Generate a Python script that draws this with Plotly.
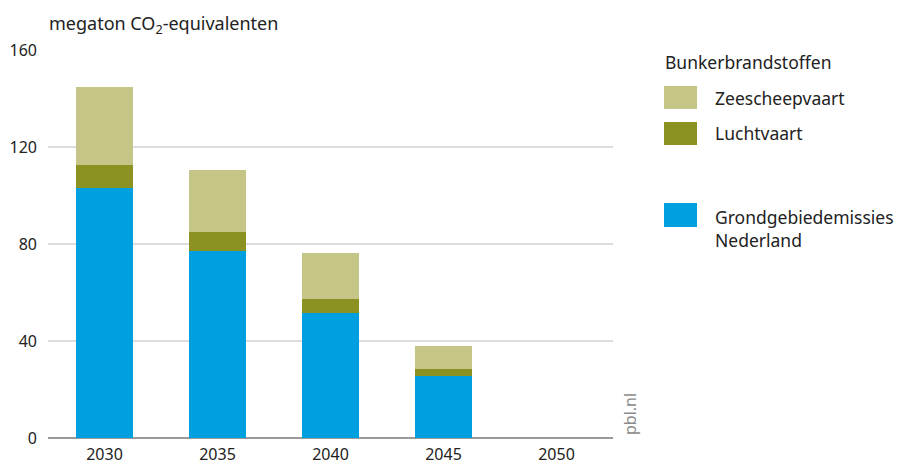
import plotly.graph_objects as go

years = ["2030", "2035", "2040", "2045", "2050"]
grondgebied = [103.0, 77.0, 51.4, 25.7, 0]
luchtvaart = [9.7, 8.0, 5.8, 2.9, 0]
zeescheepvaart = [32.0, 25.5, 19.2, 9.5, 0]
y_ticks = [0, 40, 80, 120, 160]

C_BLUE = "#009fe0"
C_LUCHT = "#8c9222"
C_ZEE = "#c4c587"
FONT = "Noto Sans"
TXT = "#222222"

W, H = 898, 466
L, R, T, B = 48, 613, 50, 438


def px(x):
    return (x - L) / (R - L)


def py(y):
    return (B - y) / (B - T)


fig = go.Figure()
fig.add_bar(x=years, y=grondgebied, name="Grondgebiedemissies Nederland",
            marker=dict(color=C_BLUE, line=dict(width=0)))
fig.add_bar(x=years, y=luchtvaart, name="Luchtvaart",
            marker=dict(color=C_LUCHT, line=dict(width=0)))
fig.add_bar(x=years, y=zeescheepvaart, name="Zeescheepvaart",
            marker=dict(color=C_ZEE, line=dict(width=0)))

fig.update_layout(
    width=W, height=H,
    barmode="stack", bargap=0.5,
    showlegend=False,
    plot_bgcolor="white", paper_bgcolor="white",
    margin=dict(l=L, r=W - R, t=T, b=H - B, pad=0, autoexpand=False),
    font=dict(family=FONT, size=16, color=TXT),
    xaxis=dict(showgrid=False, showline=False, ticks="", automargin=False,
               tickfont=dict(size=16, color=TXT), ticklabelstandoff=5),
    yaxis=dict(range=[0, 160], tickvals=y_ticks, showgrid=True, gridcolor="#dcdcdc",
               gridwidth=1.5, zeroline=True, zerolinecolor="#9a9a9a", zerolinewidth=1.5,
               showline=False, ticks="", automargin=False,
               tickfont=dict(size=16, color=TXT), ticklabelstandoff=10),
)

annotations = [
    dict(text="megaton CO<sub>2</sub>-equivalenten", x=px(47), y=py(24), xanchor="left",
         yanchor="middle", font=dict(size=18, color=TXT)),
    dict(text="pbl.nl", x=px(630), y=py(414), textangle=-90, xanchor="center",
         yanchor="middle", font=dict(size=16, color="#8a8a8a")),
    dict(text="Bunkerbrandstoffen", x=px(663), y=py(62), xanchor="left", yanchor="middle",
         font=dict(size=17.5, color=TXT)),
    dict(text="Zeescheepvaart", x=px(713), y=py(98), xanchor="left", yanchor="middle",
         font=dict(size=17.5, color=TXT)),
    dict(text="Luchtvaart", x=px(713), y=py(133), xanchor="left", yanchor="middle",
         font=dict(size=17.5, color=TXT)),
    dict(text="Grondgebiedemissies<br>Nederland", x=px(713), y=py(228), xanchor="left",
         yanchor="middle", align="left", font=dict(size=17.5, color=TXT)),
]
for a in annotations:
    a.update(xref="paper", yref="paper", showarrow=False)
fig.update_layout(annotations=annotations)

swatches = [(86, 109, C_ZEE), (122, 145, C_LUCHT), (203, 227, C_BLUE)]
for y0, y1, c in swatches:
    fig.add_shape(type="rect", xref="paper", yref="paper", x0=px(664), x1=px(697),
                  y0=py(y1), y1=py(y0), fillcolor=c, line=dict(width=0))

fig.write_html("out.html", config={"displayModeBar": False},
               post_script="document.body.style.margin='0';")
